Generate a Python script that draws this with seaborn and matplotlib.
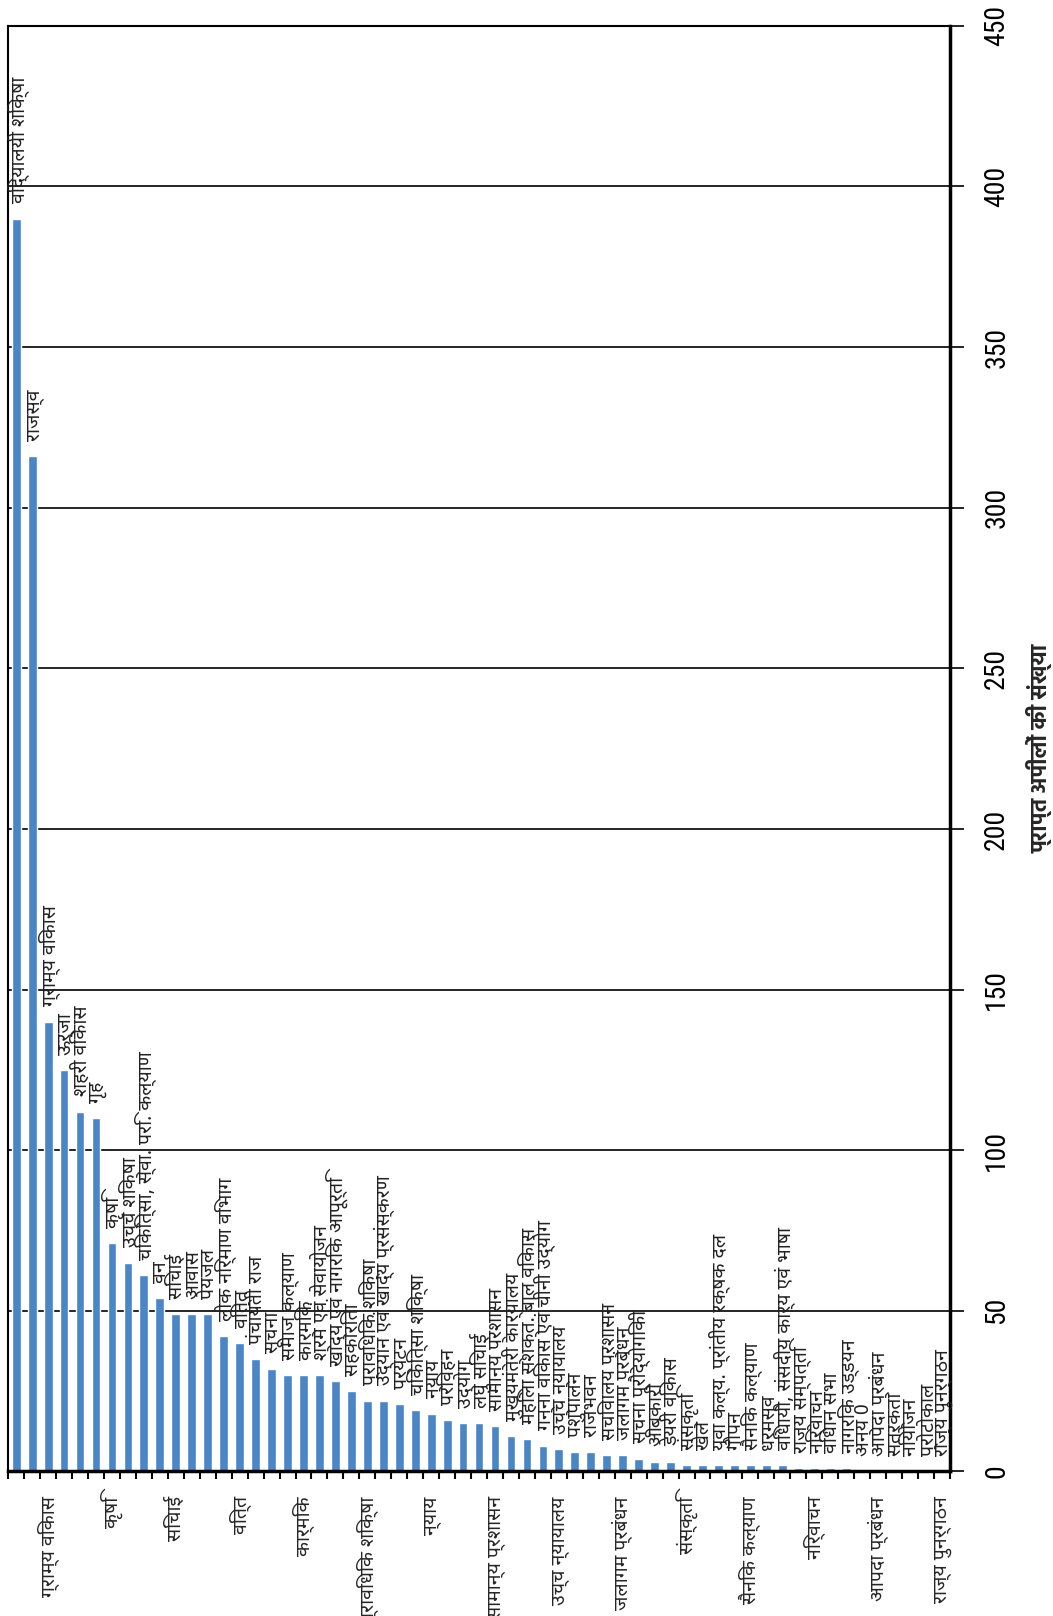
import matplotlib
matplotlib.use("Agg")
import matplotlib.pyplot as plt
import seaborn as sns
import pandas as pd
from matplotlib import font_manager as fm

# departments in the order of the bars (left to right)
departments = [
    "विद्यालयी शिक्षा", "राजस्व", "ग्राम्य विकास", "ऊर्जा", "शहरी विकास", "गृह",
    "कृषि", "उच्च शिक्षा", "चिकित्सा, स्वा. परि. कल्याण", "वन", "सिंचाई", "आवास",
    "पेयजल", "लोक निर्माण विभाग", "वित्त", "पंचायती राज", "सूचना", "समाज कल्याण",
    "कार्मिक", "श्रम एवं सेवायोजन", "खाद्य एवं नागरिक आपूर्ति", "सहकारिता",
    "प्राविधिक शिक्षा", "उद्यान एवं खाद्य प्रसंस्करण", "पर्यटन", "चिकित्सा शिक्षा",
    "न्याय", "परिवहन", "उद्योग", "लघु सिंचाई", "सामान्य प्रशासन",
    "मुख्यमंत्री कार्यालय", "महिला सशक्त. बाल विकास", "गन्ना विकास एवं चीनी उद्योग",
    "उच्च न्यायालय", "पशुपालन", "राजभवन", "सचिवालय प्रशासन", "जलागम प्रबंधन",
    "सूचना प्रौद्योगिकी", "आबकारी", "डेयरी विकास", "संस्कृति", "खेल",
    "युवा कल्य. प्रांतीय रक्षक दल", "गोपन", "सैनिक कल्याण", "धर्मस्व",
    "विधायी, संसदीय कार्य एवं भाषा", "राज्य सम्पत्ति", "निर्वाचन", "विधान सभा",
    "नागरिक उड्डयन", "अन्य 0", "आपदा प्रबंधन", "सतर्कता", "नियोजन", "प्रोटोकाल",
    "राज्य पुनर्गठन",
]
appeals = [
    390, 316, 140, 125, 112, 110, 71, 65, 61, 54, 49, 49,
    49, 42, 40, 35, 32, 30, 30, 30, 28, 25,
    22, 22, 21, 19, 18, 16, 15, 15, 14,
    11, 10, 8, 7, 6, 6, 5, 5,
    4, 3, 3, 2, 2, 2, 2, 2, 2,
    2, 1, 1, 1, 1, 0, 0, 0, 0, 0, 0,
]
y_ticks = list(range(0, 451, 50))


def first_font(names):
    for name in names:
        try:
            fm.findfont(name, fallback_to_default=False)
            return name
        except Exception:
            pass
    return "DejaVu Sans"


sns.set_theme(style="white")
deva = first_font(["Noto Sans Devanagari", "Lohit Devanagari", "FreeSans"])
deva_bold = first_font(["Hind", "Mukta", "FreeSans"])
num_font = first_font(["Roboto Condensed", "Pragati Narrow", "PT Sans Narrow",
                       "Archivo Narrow", "DejaVu Sans"])
plt.rcParams["font.family"] = [deva, "DejaVu Sans"]

df = pd.DataFrame({"dept": departments, "appeals": appeals})
n = len(df)

fig = plt.figure(figsize=(10.53, 16.16), dpi=100)
ax = fig.add_axes([0.0078, 0.0895, 0.8943, 0.8945])
sns.barplot(data=df, x="dept", y="appeals", color="#4a85c6", saturation=1,
            width=0.55, ax=ax)

# bar labels: department name above each bar
for i, row in df.iterrows():
    ax.annotate(row["dept"], (i, row["appeals"]), xytext=(1, 11),
                textcoords="offset points", rotation=90, ha="center",
                va="bottom", fontsize=14, color="#222222")

ax.set_xlim(-0.5, n - 0.5)
ax.set_ylim(0, 450)
ax.yaxis.tick_right()
ax.yaxis.set_label_position("right")
ax.set_yticks(y_ticks)
ax.set_yticklabels([str(t) for t in y_ticks], rotation=90, va="center",
                   fontsize=20, family=[num_font, "DejaVu Sans"])
ax.tick_params(axis="y", direction="out", length=10, width=1.2, pad=14,
               colors="black")
ax.set_ylabel("प्राप्त अपीलों की संख्या", fontsize=16, fontweight="bold",
              family=[deva_bold, "DejaVu Sans"], labelpad=12)
ax.grid(axis="y", color="black", linewidth=1.2)
ax.set_axisbelow(True)

# category ticks at the boundaries, every 4th name as tick label
ax.set_xticks([i - 0.5 for i in range(n + 1)], minor=True)
major = list(range(2, n, 4))
ax.set_xticks(major)
ax.set_xticklabels([departments[i] for i in major], rotation=90, va="top",
                   ha="center", fontsize=14)
ax.tick_params(axis="x", which="major", length=0, pad=18)
ax.tick_params(axis="x", which="minor", direction="out", length=6, width=1.5,
               bottom=True, colors="black")
ax.set_xlabel("")

for side in ["left", "top"]:
    ax.spines[side].set_color("black")
    ax.spines[side].set_linewidth(1.5)
for side in ["right", "bottom"]:
    ax.spines[side].set_color("black")
    ax.spines[side].set_linewidth(2.5)

fig.savefig("out.png", dpi=100)
